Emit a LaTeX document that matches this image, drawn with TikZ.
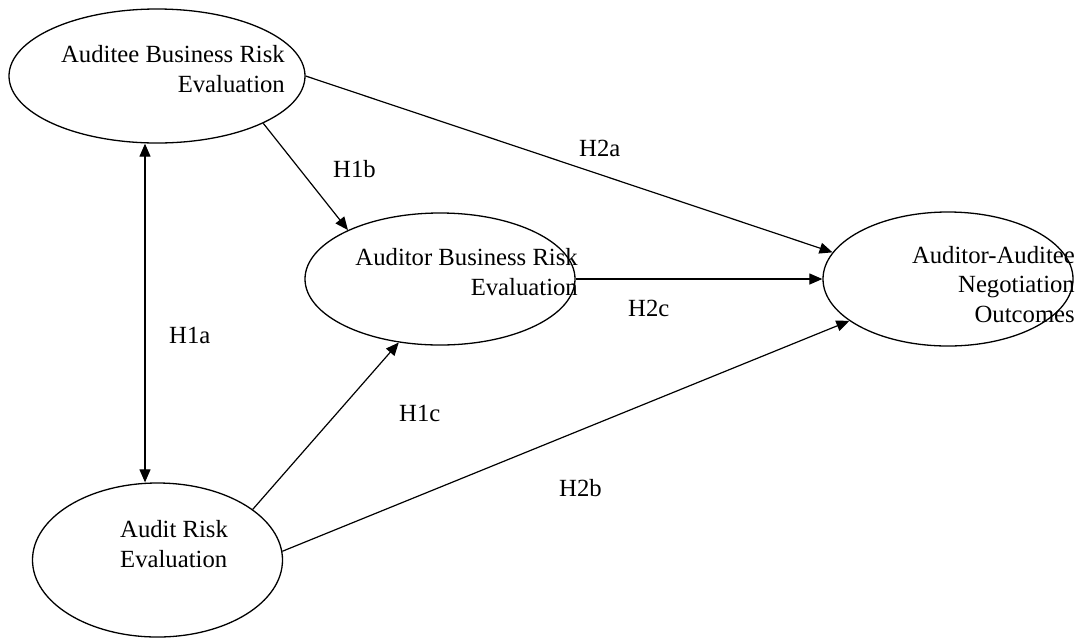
\documentclass[tikz,border=0pt]{standalone}
\usepackage{fontspec}
\setmainfont{Liberation Serif}
\usetikzlibrary{shapes.geometric,arrows.meta}
\begin{document}
\begin{tikzpicture}[x=1pt,y=-1pt,
  oval/.style={draw, ellipse, line width=1.3pt, inner sep=0pt},
  txt/.style={inner sep=0pt, font=\fontsize{24.7}{29.5}\selectfont},
  conn/.style={line width=1.2pt, -{Triangle[length=13pt,width=11pt]}},
  dconn/.style={line width=1.2pt, {Triangle[length=13pt,width=11pt]}-{Triangle[length=13pt,width=11pt]}}
]
\useasboundingbox (0,0) rectangle (1081,641);
\fill[white] (0,0) rectangle (1081,641);

\node[oval, minimum width=296pt, minimum height=134pt] (e1) at (157,76) {};
\node[oval, minimum width=270pt, minimum height=132pt] (e2) at (440,279) {};
\node[oval, minimum width=250pt, minimum height=134pt] (e3) at (948,279) {};
\node[oval, minimum width=250pt, minimum height=154pt] (e4) at (157.5,560) {};

% base anchor of a multi-line node lies on its last line
\node[txt, anchor=base east, align=right] (t1) at (285,92) {Auditee Business Risk\\Evaluation};
\node[txt, anchor=base east, align=right] (t2) at (578,295) {Auditor Business Risk\\Evaluation};
\node[txt, anchor=base east, align=right] (t3) at (1075,322) {Auditor-Auditee\\Negotiation\\Outcomes};
\node[txt, anchor=base west, align=left] (t4) at (120,567) {Audit Risk\\Evaluation};

\draw[dconn] ([xshift=-12pt]e1.south) -- ([xshift=-12.5pt]e4.north);
\draw[conn] (e1.-24) -- (e2.152.7);
\draw[conn] (e1.east) -- (e3.167.8);
\draw[conn] (e2.east) -- (e3.west);
\draw[conn] (e4.28.7) -- (e2.-123.9);
\draw[conn] (e4.4.6) -- (e3.-157.3);

\node[txt, anchor=base west] (h2a) at (579,156) {H2a};
\node[txt, anchor=base west] (h1b) at (333,177) {H1b};
\node[txt, anchor=base west] (h1a) at (169,343) {H1a};
\node[txt, anchor=base west] (h2c) at (628,316) {H2c};
\node[txt, anchor=base west] (h1c) at (399,421) {H1c};
\node[txt, anchor=base west] (h2b) at (559,496) {H2b};
\end{tikzpicture}
\end{document}
